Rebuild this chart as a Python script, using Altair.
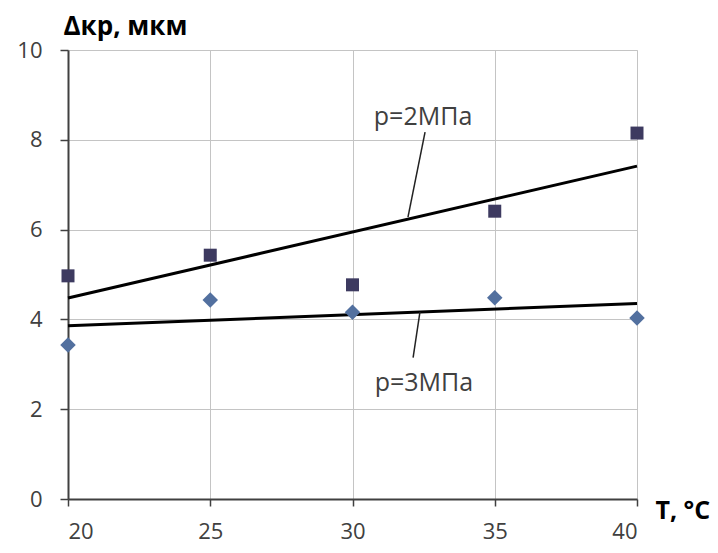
import altair as alt
import pandas as pd

temps = [20, 25, 30, 35, 40]
delta_p2 = [4.97, 5.43, 4.77, 6.41, 8.15]
delta_p3 = [3.43, 4.43, 4.16, 4.48, 4.03]
series_names = ["p=2МПа", "p=3МПа"]
x_ticks = [20, 25, 30, 35, 40]
y_ticks = [0, 2, 4, 6, 8, 10]

# annotation label anchors and leader lines (data coordinates)
label_x = [32.48, 32.51]
label_y = [8.51, 2.58]
leader_x = [32.55, 32.37]
leader_y = [8.17, 4.16]
leader_x2 = [31.95, 32.13]
leader_y2 = [6.28, 3.15]

rows = []
for t, v in zip(temps, delta_p2):
    rows.append({"T": t, "delta": v, "series": series_names[0]})
for t, v in zip(temps, delta_p3):
    rows.append({"T": t, "delta": v, "series": series_names[1]})
df = pd.DataFrame(rows)

ann = pd.DataFrame({
    "label": series_names,
    "lx": label_x, "ly": label_y,
    "x1": leader_x, "y1": leader_y,
    "x2": leader_x2, "y2": leader_y2,
})

FONT = "Open Sans"

xscale = alt.Scale(domain=[20, 40], nice=False, zero=False)
yscale = alt.Scale(domain=[0, 10], nice=False)

xaxis = alt.Axis(
    values=x_ticks, title="T, °C", titleAngle=0, titleAlign="left",
    titleBaseline="middle", titleX=587, titleY=11, titleFont=FONT,
    titleFontSize=25, titleFontWeight="bold", titleColor="#000000",
    labelFont=FONT, labelFontSize=22, labelColor="#404040",
    tickSize=7, labelPadding=15, domainColor="#404040", domainWidth=2,
    tickColor="#404040", tickWidth=1.5, grid=True, gridColor="#c4c4c4",
    gridWidth=1,
)
yaxis = alt.Axis(
    values=y_ticks, title="Δкр, мкм", titleAngle=0, titleAlign="left",
    titleBaseline="top", titleX=-5, titleY=-37, titleFont=FONT,
    titleFontSize=26, titleFontWeight="bold", titleColor="#000000",
    labelFont=FONT, labelFontSize=22, labelColor="#404040",
    tickSize=8, labelPadding=18, domainColor="#404040", domainWidth=2,
    tickColor="#404040", tickWidth=1.5, grid=True, gridColor="#c4c4c4",
    gridWidth=1,
)

base = alt.Chart(df)

points = base.mark_point(filled=True, opacity=1).encode(
    x=alt.X("T:Q", scale=xscale, axis=xaxis),
    y=alt.Y("delta:Q", scale=yscale, axis=yaxis),
    shape=alt.Shape("series:N", scale=alt.Scale(domain=series_names, range=["square", "diamond"]), legend=None),
    color=alt.Color("series:N", scale=alt.Scale(domain=series_names, range=["#3d3a60", "#52709f"]), legend=None),
    size=alt.Size("series:N", scale=alt.Scale(domain=series_names, range=[169, 240]), legend=None),
)

trend = base.transform_regression(
    "T", "delta", groupby=["series"], extent=[20, 40]
).mark_line(color="#000000", strokeWidth=3).encode(
    x=alt.X("T:Q", scale=xscale),
    y=alt.Y("delta:Q", scale=yscale),
    detail="series:N",
)

leaders = alt.Chart(ann).mark_rule(color="#222222", strokeWidth=1.5).encode(
    x=alt.X("x1:Q", scale=xscale), y=alt.Y("y1:Q", scale=yscale),
    x2="x2:Q", y2="y2:Q",
)

labels = alt.Chart(ann).mark_text(
    font=FONT, fontSize=25, color="#404040", align="center", baseline="middle"
).encode(
    x=alt.X("lx:Q", scale=xscale), y=alt.Y("ly:Q", scale=yscale), text="label:N",
)

chart = alt.layer(trend, points, leaders, labels).properties(
    width=569, height=449,
    autosize=alt.AutoSizeParams(type="none"),
    padding={"left": 60, "top": 42, "right": 73, "bottom": 46},
).configure_view(stroke=None).configure(background="white")

chart.save("out.html", embed_options={"renderer": "svg", "actions": False})
